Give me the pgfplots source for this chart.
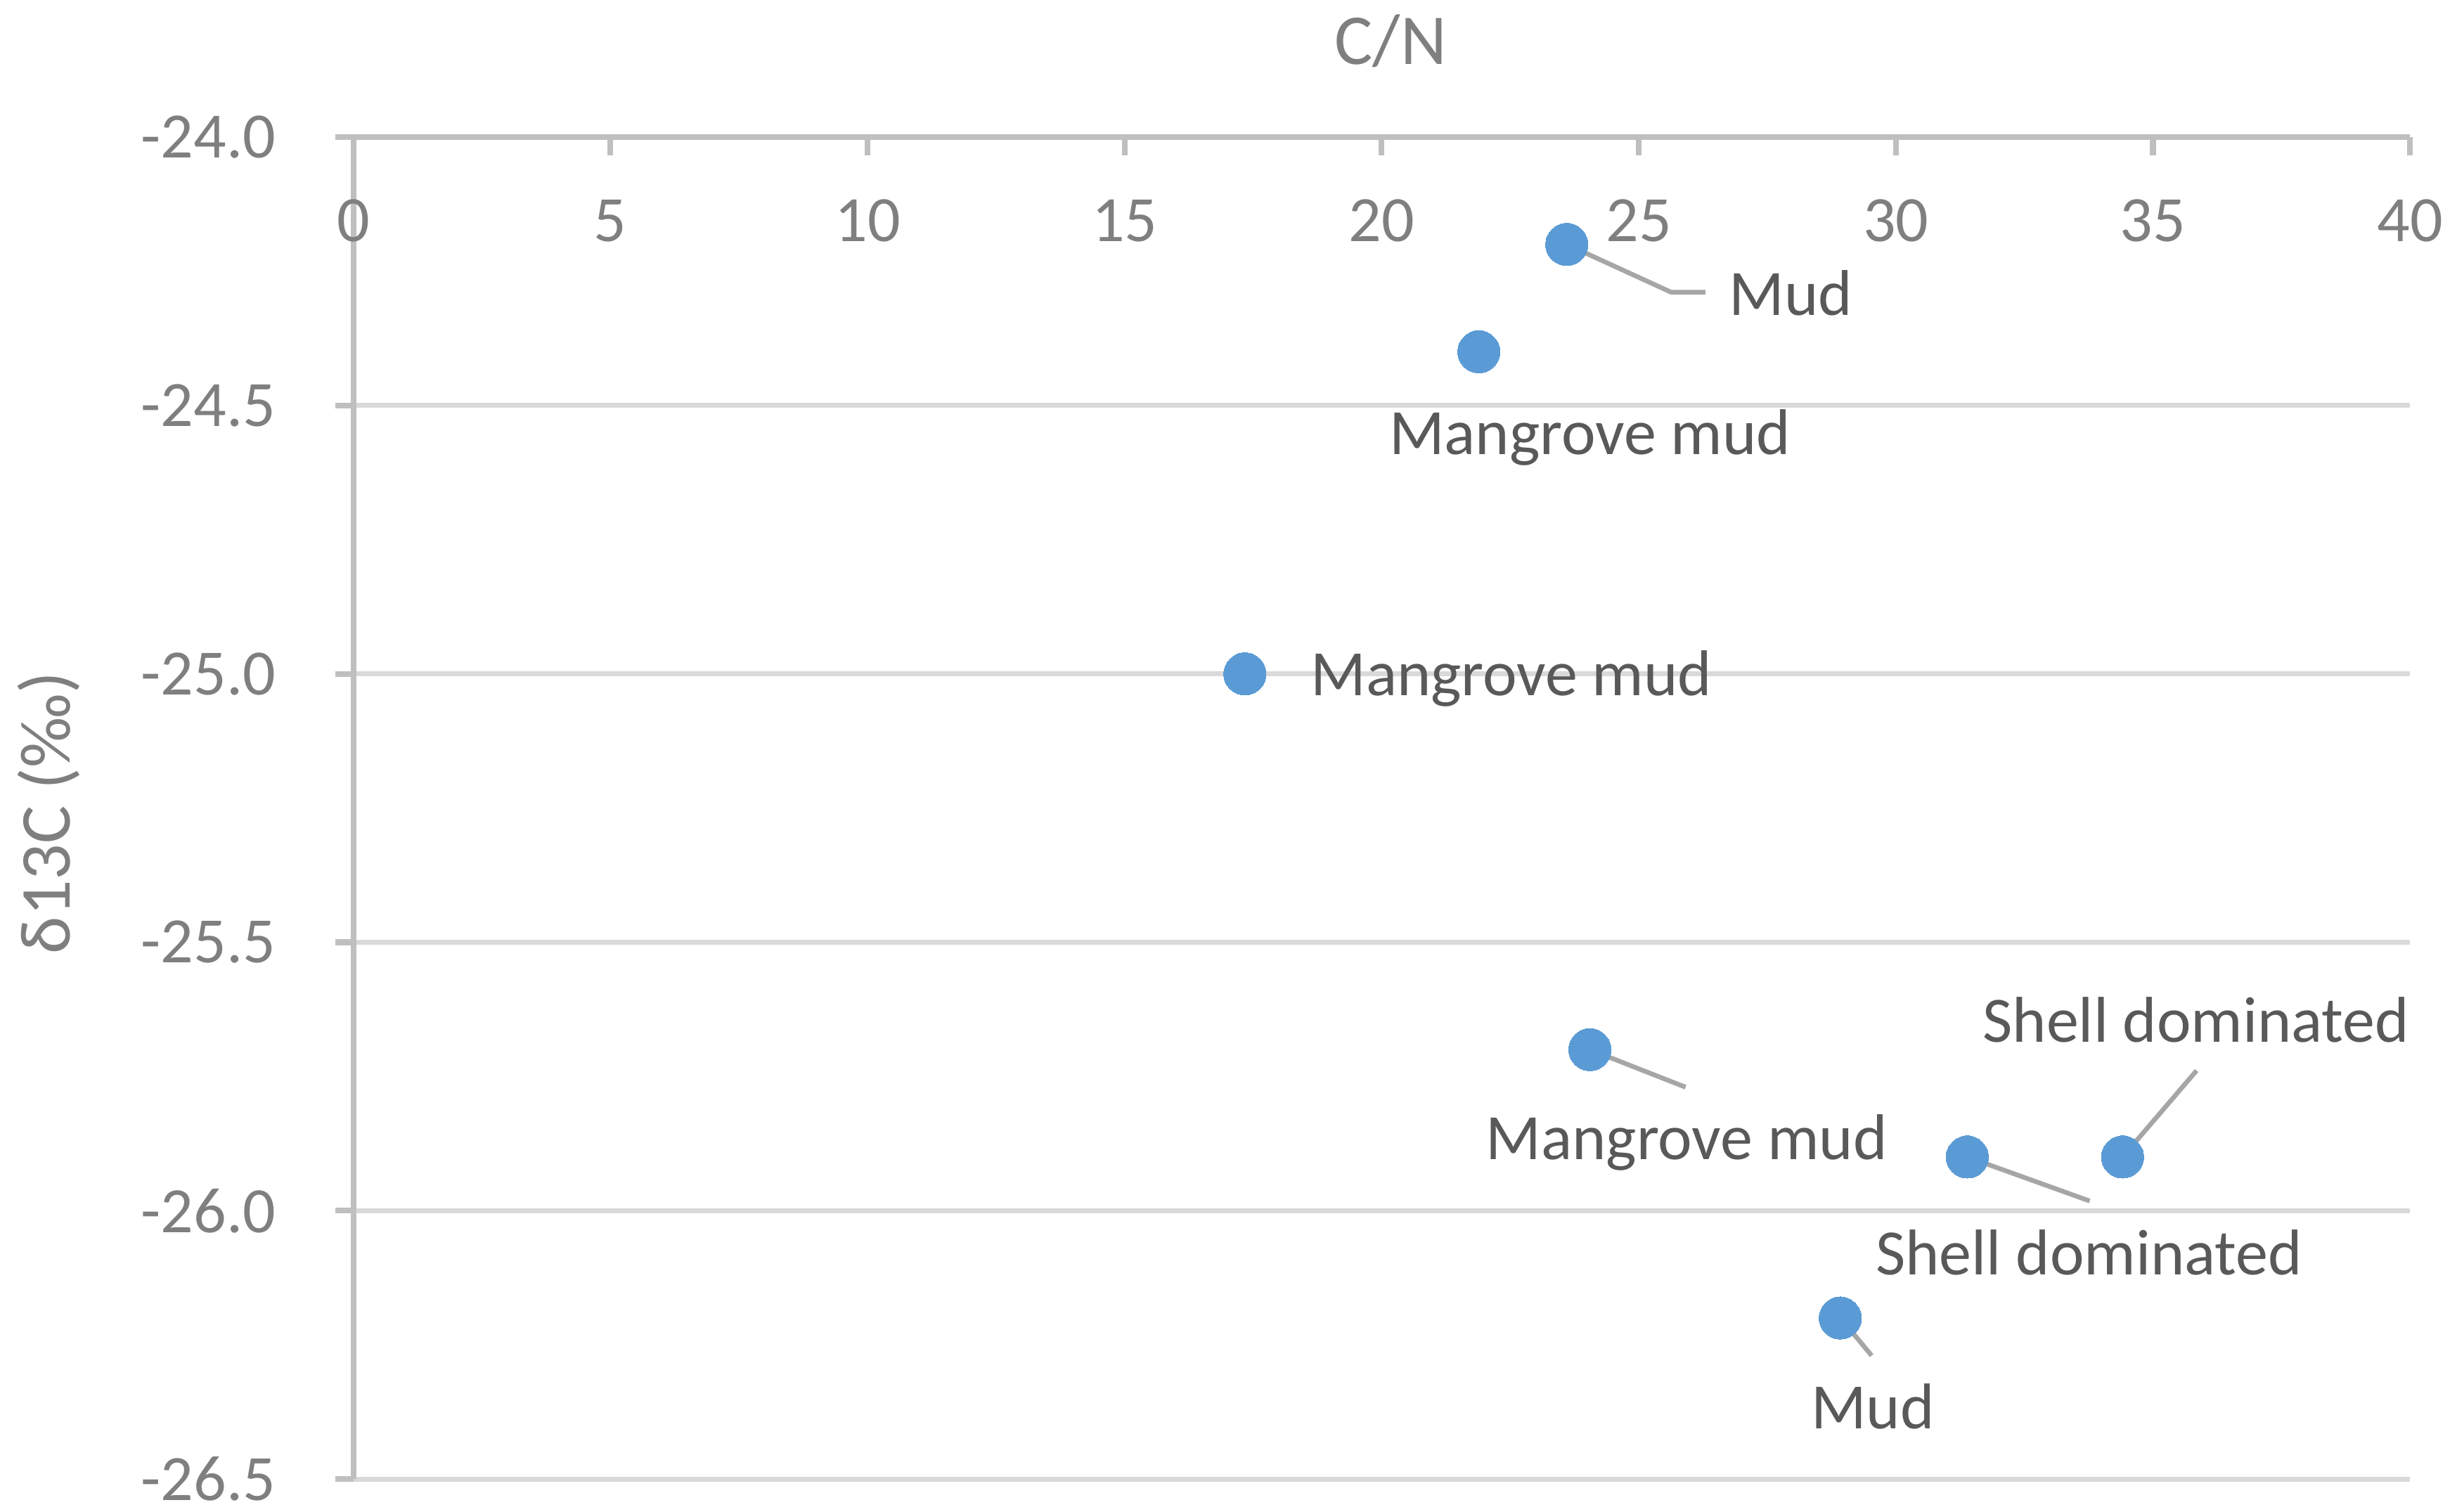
\documentclass[border=0pt]{standalone}
\usepackage{fontspec}
\setmainfont{Carlito}
\usepackage{pgfplots}
\pgfplotsset{compat=1.18}
\definecolor{axisgray}{HTML}{BFBFBF}
\definecolor{gridgray}{HTML}{D9D9D9}
\definecolor{ticktext}{HTML}{7F7F7F}
\definecolor{labeltext}{HTML}{595959}
\definecolor{leadergray}{HTML}{A6A6A6}
\definecolor{markblue}{HTML}{5B9BD5}
\newcommand{\tickfont}{\fontsize{11.75}{14}\selectfont}
\newcommand{\titlefont}{\fontsize{13}{15.5}\selectfont}
\begin{document}
\begin{tikzpicture}
\useasboundingbox (-2.255cm,-0.21cm) rectangle (13.425cm,9.44cm);
\begin{axis}[
  at={(0,0)}, anchor=south west,
  scale only axis, width=13.125cm, height=8.565cm,
  xmin=0, xmax=40, ymin=-26.5, ymax=-24,
  axis x line*=top, axis y line*=left,
  axis line style={axisgray, line width=1.05pt},
  xtick={0,5,10,15,20,25,30,35,40},
  xticklabels={0,5,10,15,20,25,30,35,40},
  ytick={-26.5,-26,-25.5,-25,-24.5,-24},
  yticklabels={-26.5,-26.0,-25.5,-25.0,-24.5,-24.0},
  tick align=inside,
  major tick length=0.116cm,
  tick style={axisgray, line width=1.05pt},
  ytick style={xshift=-0.116cm},
  ymajorgrids, xmajorgrids=false,
  major grid style={gridgray, line width=0.9pt},
  xticklabel style={anchor=center, yshift=-0.535cm, font=\tickfont, text=ticktext},
  yticklabel style={anchor=east, inner sep=0pt, xshift=-0.489cm, font=\tickfont, text=ticktext},
  xlabel={C/N}, ylabel={δ13C (‰)},
  xlabel style={at={(axis description cs:0.5044,1)}, anchor=base, yshift=0.464cm, font=\titlefont, text=ticktext},
  ylabel style={at={(axis description cs:-0.1378,0.4964)}, anchor=base, font=\titlefont, text=ticktext},
  clip=false,
]
\addplot[only marks, mark=*, mark size=3.84pt, mark options={fill=markblue, draw=markblue, line width=0pt}] coordinates {
  (23.60,-24.20)
  (21.89,-24.40)
  (17.34,-25.00)
  (24.05,-25.70)
  (31.39,-25.90)
  (34.41,-25.90)
  (28.92,-26.20)
};
% leader lines
\draw[leadergray, line width=0.85pt] (axis cs:23.60,-24.20) -- (axis cs:25.63,-24.289) -- (axis cs:26.30,-24.289);
\draw[leadergray, line width=0.85pt] (axis cs:24.05,-25.70) -- (axis cs:25.91,-25.770);
\draw[leadergray, line width=0.85pt] (axis cs:31.39,-25.90) -- (axis cs:33.77,-25.982);
\draw[leadergray, line width=0.85pt] (axis cs:34.41,-25.90) -- (axis cs:35.85,-25.739);
\draw[leadergray, line width=0.85pt] (axis cs:28.92,-26.20) -- (axis cs:29.53,-26.270);
% data labels
\tikzset{dlab/.style={anchor=base, inner sep=0pt, font=\tickfont, text=labeltext}}
\node[dlab] at (axis cs:27.96,-24.332) {Mud};
\node[dlab] at (axis cs:24.05,-24.591) {Mangrove mud};
\node[dlab] at (axis cs:22.52,-25.040) {Mangrove mud};
\node[dlab] at (axis cs:25.93,-25.905) {Mangrove mud};
\node[dlab] at (axis cs:33.76,-26.119) {Shell dominated};
\node[dlab] at (axis cs:35.84,-25.686) {Shell dominated};
\node[dlab] at (axis cs:29.55,-26.406) {Mud};
\end{axis}
\end{tikzpicture}
\end{document}
